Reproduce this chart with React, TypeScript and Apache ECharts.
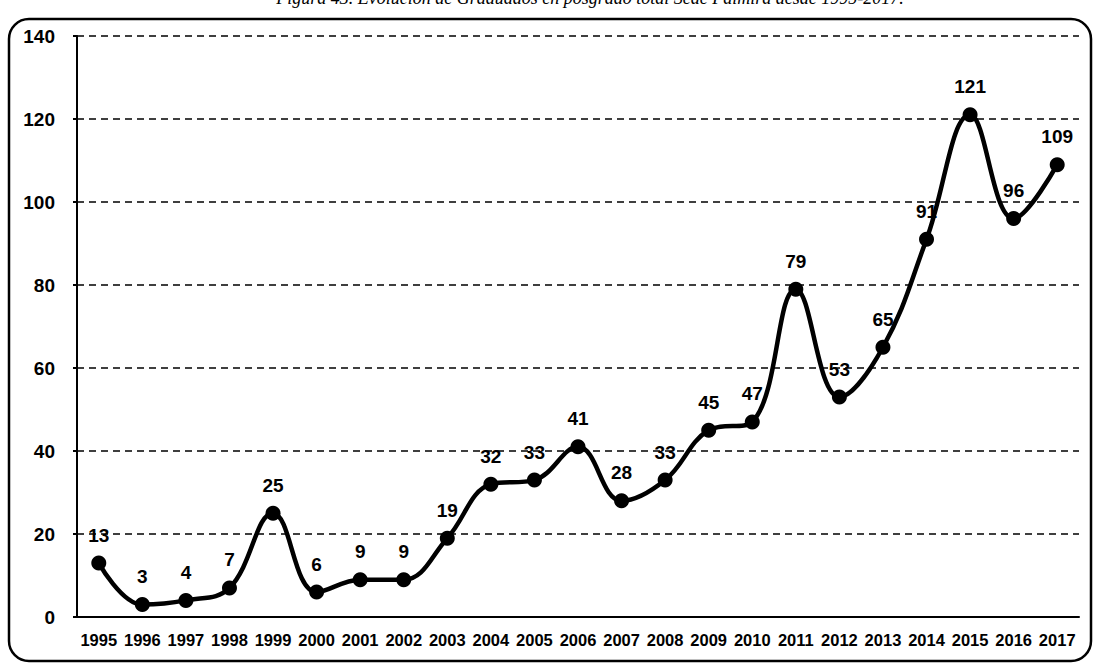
import React, { useEffect, useRef } from "react";
import * as echarts from "echarts";

const years = ["1995","1996","1997","1998","1999","2000","2001","2002","2003","2004","2005","2006","2007","2008","2009","2010","2011","2012","2013","2014","2015","2016","2017"];
const graduados = [13,3,4,7,25,6,9,9,19,32,33,41,28,33,45,47,79,53,65,91,121,96,109];
const titleText = "Figura 43. Evolución de Graduados en posgrado total Sede Palmira desde 1995-2017.";

const FONT = "'Liberation Sans', Arial, sans-serif";

export default function App() {
  const ref = useRef<HTMLDivElement>(null);
  useEffect(() => {
    const chart = echarts.init(ref.current!, null, { renderer: "svg" });
    chart.setOption({
      animation: false,
      backgroundColor: "#ffffff",
      textStyle: { fontFamily: FONT },
      grid: { left: 77, right: 19, top: 36, bottom: 51 },
      graphic: [
        {
          type: "rect",
          shape: { x: 9, y: 19, width: 1082, height: 642, r: 20 },
          style: { fill: "none", stroke: "#000", lineWidth: 2.5 },
          z: 0
        },
        {
          type: "text",
          x: 590,
          y: 7,
          style: {
            text: titleText,
            fontFamily: "'Liberation Serif', serif",
            fontStyle: "italic",
            fontSize: 18,
            fill: "#000",
            align: "center",
            verticalAlign: "bottom"
          }
        }
      ],
      xAxis: {
        type: "category",
        data: years,
        boundaryGap: true,
        axisLine: { lineStyle: { color: "#000", width: 2 } },
        axisTick: { show: false },
        axisLabel: { color: "#000", fontWeight: "bold", fontSize: 16.5, fontFamily: FONT, margin: 14, interval: 0 }
      },
      yAxis: {
        type: "value",
        min: 0,
        max: 140,
        interval: 20,
        axisLine: { show: true, lineStyle: { color: "#000", width: 2 } },
        axisTick: { show: true, length: 4, lineStyle: { color: "#000", width: 2 } },
        axisLabel: { color: "#000", fontWeight: "bold", fontSize: 19, fontFamily: FONT, margin: 22 },
        splitLine: { lineStyle: { color: "#000", type: [7, 5], width: 1.5 } }
      },
      series: [
        {
          type: "line",
          data: graduados,
          smooth: 0.4,
          symbol: "circle",
          symbolSize: 15,
          lineStyle: { color: "#000", width: 4.5 },
          itemStyle: { color: "#000" },
          label: {
            show: true,
            position: "top",
            distance: 11,
            color: "#000",
            fontWeight: "bold",
            fontSize: 19,
            fontFamily: FONT
          }
        }
      ]
    });
    return () => chart.dispose();
  }, []);
  return <div ref={ref} style={{ width: 1098, height: 668, position: "absolute", left: 0, top: 0 }} />;
}
